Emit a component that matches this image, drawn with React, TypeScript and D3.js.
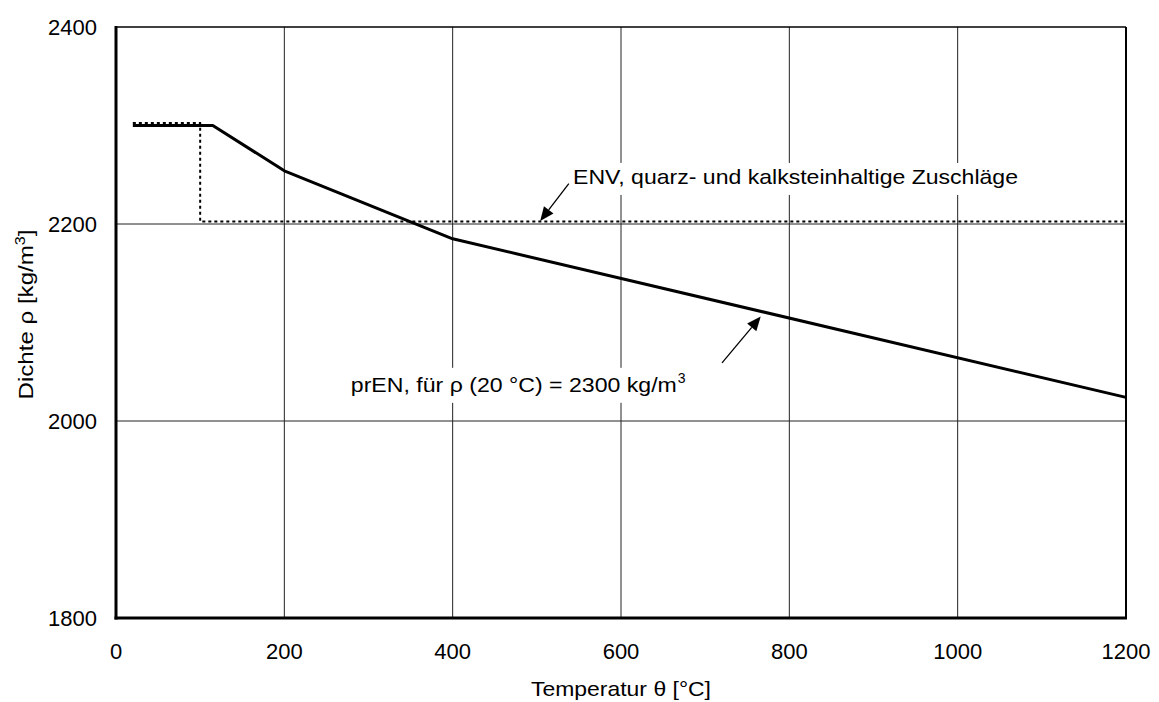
import React from "react";
import * as d3 from "d3";

// prEN curve (rho(20°C) = 2300 kg/m3)
const prenTemp = [20, 115, 200, 400, 1200];
const prenDensity = [2300, 2300, 2254, 2185, 2024];

// ENV, quartz and limestone aggregates
const envTemp = [20, 100, 100, 1200];
const envDensity = [2302.5, 2302.5, 2202.5, 2202.5];

const xTicks = [0, 200, 400, 600, 800, 1000, 1200];
const yTicks = [1800, 2000, 2200, 2400];

// annotation arrows [tailX, tailY, headX, headY] in data units
const envArrow = [538, 2241, 504, 2203];
const prenArrow = [720, 2059, 766, 2106];

const W = 1159;
const H = 702;
const M = { left: 116, right: 33, top: 27, bottom: 84 };
const FONT = "'Liberation Sans', Arial, sans-serif";

export default function App() {
  const x = d3.scaleLinear().domain([0, 1200]).range([M.left, W - M.right]);
  const y = d3.scaleLinear().domain([1800, 2400]).range([H - M.bottom, M.top]);
  const line = d3
    .line<[number, number]>()
    .x((d) => x(d[0]))
    .y((d) => y(d[1]));
  const pren = line(prenTemp.map((t, i) => [t, prenDensity[i]] as [number, number]));
  const env = line(envTemp.map((t, i) => [t, envDensity[i]] as [number, number]));

  const arrow = (a: number[], key: string) => {
    const x1 = x(a[0]), y1 = y(a[1]), x2 = x(a[2]), y2 = y(a[3]);
    const ang = Math.atan2(y2 - y1, x2 - x1);
    const L = 14, w = 6;
    const bx = x2 - L * Math.cos(ang), by = y2 - L * Math.sin(ang);
    const px = -Math.sin(ang) * w, py = Math.cos(ang) * w;
    return (
      <g key={key}>
        <line x1={x1} y1={y1} x2={bx} y2={by} stroke="#000" strokeWidth={1.3} />
        <path d={`M${x2},${y2}L${bx + px},${by + py}L${bx - px},${by - py}Z`} fill="#000" />
      </g>
    );
  };

  return (
    <svg
      width={W}
      height={H}
      style={{ position: "absolute", left: 0, top: 0, background: "#fff", fontFamily: FONT }}
    >
      {/* grid */}
      {xTicks.slice(1, -1).map((t) => (
        <line key={"gx" + t} x1={x(t)} x2={x(t)} y1={y(2400)} y2={y(1800)} stroke="#222" strokeWidth={1} />
      ))}
      {yTicks.slice(1, -1).map((t) => (
        <line key={"gy" + t} x1={x(0)} x2={x(1200)} y1={y(t)} y2={y(t)} stroke="#222" strokeWidth={1} />
      ))}

      {/* annotation backgrounds */}
      <rect x={x(540)} y={y(2262)} width={452} height={32} fill="#fff" />
      <rect x={x(276)} y={y(2054)} width={342} height={35} fill="#fff" />

      {/* frame */}
      <line x1={x(0)} x2={x(1200)} y1={y(2400)} y2={y(2400)} stroke="#000" strokeWidth={1.5} />
      <line x1={x(1200)} x2={x(1200)} y1={y(2400)} y2={y(1800)} stroke="#000" strokeWidth={2} />

      {/* series */}
      <path d={env ?? ""} fill="none" stroke="#000" strokeWidth={2} strokeDasharray="3,3" />
      <path d={pren ?? ""} fill="none" stroke="#000" strokeWidth={3} strokeLinejoin="round" />

      {/* axes */}
      <line x1={x(0)} x2={x(0)} y1={y(2400) - 1} y2={y(1800) + 1.5} stroke="#000" strokeWidth={3} />
      <line x1={x(0) - 1.5} x2={x(1200) + 1} y1={y(1800)} y2={y(1800)} stroke="#000" strokeWidth={3} />

      {/* tick labels */}
      {xTicks.map((t) => (
        <text key={"tx" + t} x={x(t)} y={y(1800) + 41} textAnchor="middle" fontSize={22} fill="#000">
          {t}
        </text>
      ))}
      {yTicks.map((t) => (
        <text key={"ty" + t} x={x(0) - 19} y={y(t) + 7.5} textAnchor="end" fontSize={22} fill="#000">
          {t}
        </text>
      ))}

      {/* axis titles */}
      <text
        x={(x(0) + x(1200)) / 2}
        y={696}
        textAnchor="middle"
        fontSize={21}
        fill="#000"
        textLength={180}
        lengthAdjust="spacingAndGlyphs"
      >
        Temperatur θ [°C]
      </text>
      <text
        transform={`translate(33,314.5) rotate(-90)`}
        textAnchor="middle"
        fontSize={21}
        fill="#000"
        textLength={170}
        lengthAdjust="spacingAndGlyphs"
      >
        Dichte ρ [kg/m
        <tspan dy={-8} fontSize={14}>3</tspan>
        <tspan dy={8}>]</tspan>
      </text>

      {/* annotations */}
      <text
        x={x(543)}
        y={y(2241)}
        fontSize={21}
        fill="#000"
        textLength={445}
        lengthAdjust="spacingAndGlyphs"
      >
        ENV, quarz- und kalksteinhaltige Zuschläge
      </text>
      {arrow(envArrow, "a1")}
      <text
        x={x(279)}
        y={y(2029)}
        fontSize={21}
        fill="#000"
        textLength={326}
        lengthAdjust="spacingAndGlyphs"
      >
        prEN, für ρ (20 °C) = 2300 kg/m
      </text>
      <text x={x(279) + 327} y={y(2029) - 9} fontSize={14} fill="#000">
        3
      </text>
      {arrow(prenArrow, "a2")}
    </svg>
  );
}
